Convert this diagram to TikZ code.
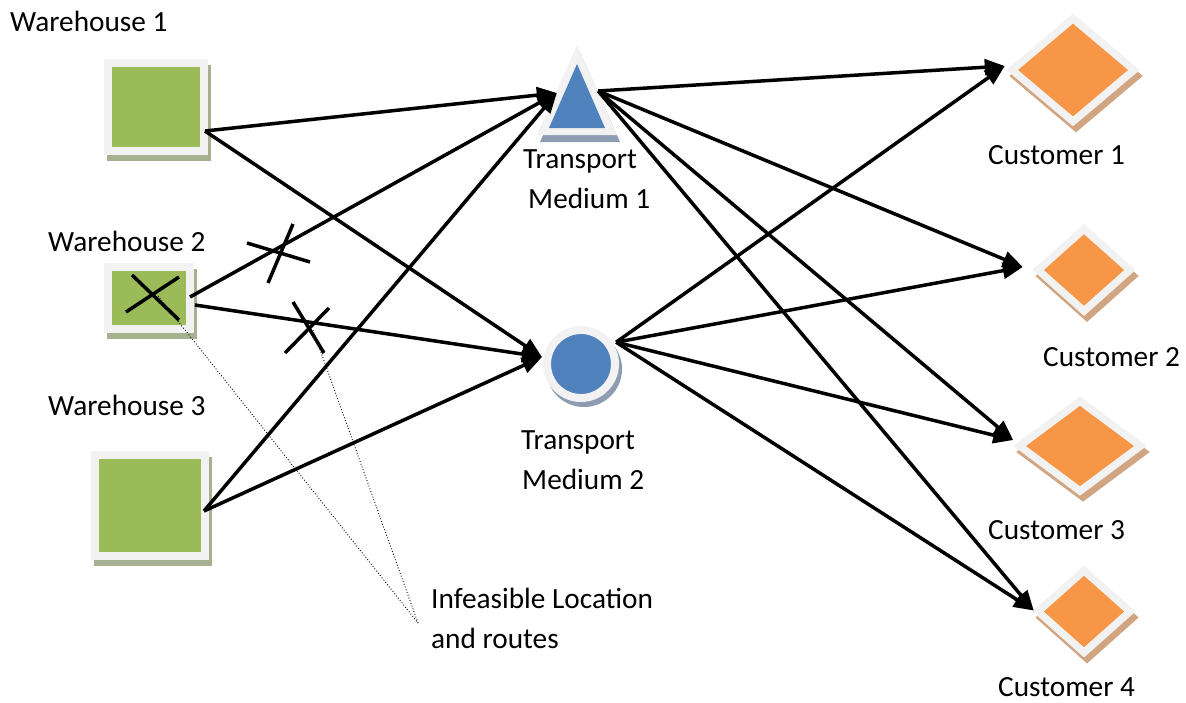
\documentclass[tikz,border=0pt]{standalone}
\usepackage{fontspec}
\setmainfont{Carlito}
\usetikzlibrary{arrows.meta,shapes.geometric}
\definecolor{wgreen}{HTML}{9BBB59}
\definecolor{lgray}{HTML}{F2F2F2}
\definecolor{gshad}{HTML}{A7B18F}
\definecolor{tblue}{HTML}{4F81BD}
\definecolor{bshad}{HTML}{8D9CB0}
\definecolor{corange}{HTML}{F79646}
\definecolor{oshad}{HTML}{D1A581}
\begin{document}
\begin{tikzpicture}[x=1pt,y=-1pt,
  font=\fontsize{29.3}{40}\selectfont,
  whbox/.style={rectangle, fill=wgreen, draw=lgray, line width=8pt, inner sep=0pt,
    preaction={fill=gshad, draw=gshad, transform canvas={shift={(3pt,-6pt)}}}},
  tmcirc/.style={circle, fill=tblue, draw=lgray, line width=8pt, inner sep=0pt,
    preaction={fill=bshad, draw=bshad, transform canvas={shift={(3pt,-5pt)}}}},
  cdiam/.style={diamond, fill=corange, draw=lgray, line width=7.5pt, inner sep=0pt,
    preaction={fill=oshad, draw=oshad, transform canvas={shift={(3pt,-6pt)}}}},
  conn/.style={line width=3.5pt, -{Triangle[length=20pt,width=16pt]}},
  xmark/.style={line width=3.5pt},
  dotline/.style={line width=0.9pt, dotted},
  lbl/.style={inner sep=0pt, anchor=base west}]
\useasboundingbox (0,0) rectangle (1186,702);

% warehouses
\node[whbox, minimum width=96pt, minimum height=88pt] (w1) at (156,107) {};
\node[whbox, minimum width=82pt, minimum height=62pt] (w2) at (149,298) {};
\node[whbox, minimum width=110pt, minimum height=101pt] (w3) at (150,505.5) {};

% transport medium 1 (triangle)
\fill[bshad] (580,52) -- (540,142) -- (620,142) -- cycle;
\fill[lgray] (577,45) -- (537,135) -- (617,135) -- cycle;
\fill[tblue] (577,64) -- (549,128) -- (605,128) -- cycle;
\node[inner sep=0pt, minimum width=80pt, minimum height=90pt] (t1) at (577,90) {};

% transport medium 2 (circle)
\node[tmcirc, minimum size=68pt] (t2) at (581,364) {};

% customers
\node[cdiam, minimum width=125pt, minimum height=106pt] (c1) at (1073,70) {};
\node[cdiam, minimum width=95pt, minimum height=85pt] (c2) at (1084,270) {};
\node[cdiam, minimum width=124pt, minimum height=93pt] (c3) at (1080,446) {};
\node[cdiam, minimum width=95pt, minimum height=85pt] (c4) at (1084,611.5) {};

% labels
\node[lbl] (lw1) at (10,31) {Warehouse 1};
\node[lbl] (lw2) at (48,251) {Warehouse 2};
\node[lbl] (lw3) at (48,415) {Warehouse 3};
\node[lbl] (lt1a) at (523,168) {Transport};
\node[lbl] (lt1b) at (528,208) {Medium 1};
\node[lbl] (lt2a) at (521,449) {Transport};
\node[lbl] (lt2b) at (522,489) {Medium 2};
\node[lbl] (lc1) at (988,164) {Customer 1};
\node[lbl] (lc2) at (1043,366) {Customer 2};
\node[lbl] (lc3) at (988,539) {Customer 3};
\node[lbl] (lc4) at (998,696) {Customer 4};
\node[lbl] (linfa) at (431,608) {Infeasible Location};
\node[lbl] (linfb) at (431,648) {and routes};

% ports
\coordinate (w1p) at ([xshift=-3pt,yshift=-24pt]w1.east);
\coordinate (w2a) at ([xshift=-4pt,yshift=1pt]w2.east);
\coordinate (w2b) at ([xshift=1pt,yshift=-7pt]w2.east);
\coordinate (w3p) at ([xshift=-5pt,yshift=-5.5pt]w3.east);
\coordinate (t1in) at ([xshift=20pt,yshift=-3pt]t1.west);
\coordinate (t1out) at ([xshift=-19pt,yshift=-1pt]t1.east);
\coordinate (t2in) at ([xshift=-1pt,yshift=7pt]t2.west);
\coordinate (t2out) at ([xshift=4pt]t2.35);
\coordinate (c1p) at ([xshift=-2pt,yshift=4pt]c1.west);
\coordinate (c2p) at ([xshift=-10pt,yshift=3pt]c2.west);
\coordinate (c3p) at ([xshift=-1pt,yshift=6pt]c3.west);
\coordinate (c4p) at ([xshift=1pt,yshift=1pt]c4.west);
\coordinate (infpt) at (418,623);

% connectors
\draw[conn] (w1p) -- (t1in);
\draw[conn] (w1p) -- (t2in);
\draw[conn] (w2a) -- (t1in);
\draw[conn] (w2b) -- (t2in);
\draw[conn] (w3p) -- (t1in);
\draw[conn] (w3p) -- (t2in);
\draw[conn] (t1out) -- (c1p);
\draw[conn] (t1out) -- (c2p);
\draw[conn] (t1out) -- (c3p);
\draw[conn] (t1out) -- (c4p);
\draw[conn] (t2out) -- (c1p);
\draw[conn] (t2out) -- (c2p);
\draw[conn] (t2out) -- (c3p);
\draw[conn] (t2out) -- (c4p);

% infeasible marks
\draw[xmark] (126,312) -- (179,277);
\draw[xmark] (132,275) -- (179,320);
\draw[xmark] (247,243) -- (310,262);
\draw[xmark] (293,224) -- (268,283);
\draw[xmark] (293,302) -- (324,353);
\draw[xmark] (285,353) -- (329,308);

% dotted pointers
\draw[dotline] (158,296) -- (infpt);
\draw[dotline] (313,330) -- (infpt);
\end{tikzpicture}
\end{document}
